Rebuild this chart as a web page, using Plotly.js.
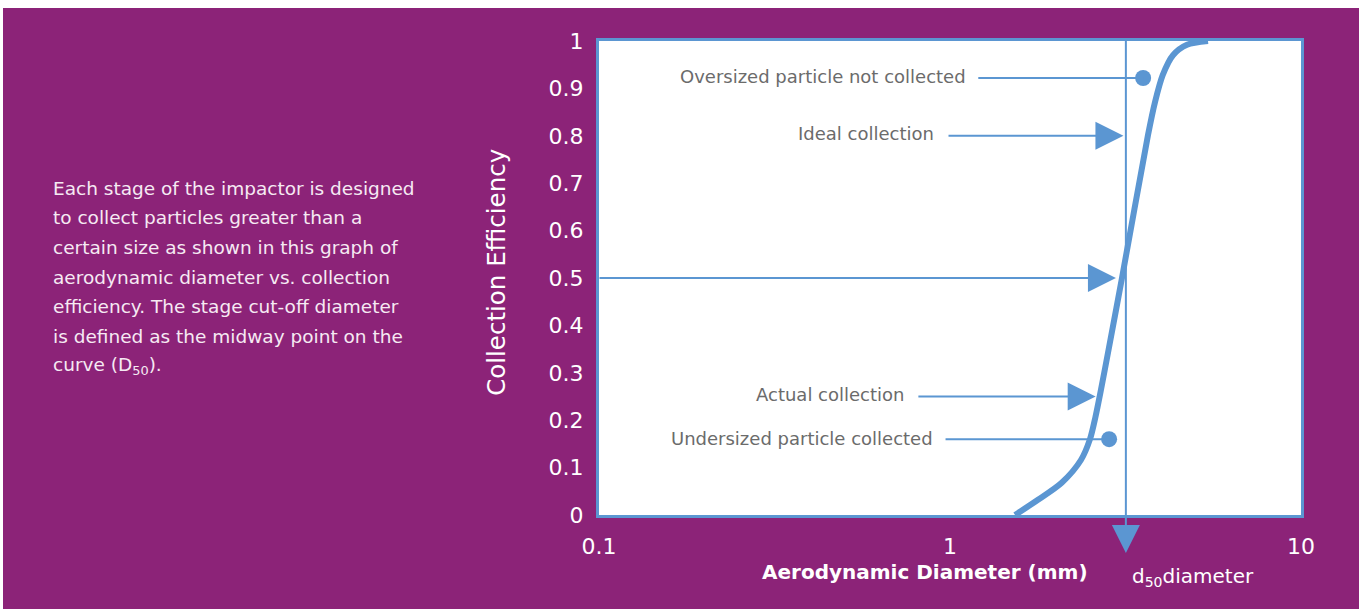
<!DOCTYPE html>
<html><head><meta charset="utf-8">
<script src="https://cdn.plot.ly/plotly-3.0.1.min.js"></script>
<style>
html,body{margin:0;padding:0;background:#fff;width:1359px;height:609px;overflow:hidden}
#chart{position:absolute;left:3px;top:8px;width:1356px;height:601px}
</style>
</head><body><div id="chart"></div>
<script>
// ---- data ----
const diameters  = [1.532, 1.781, 2.081, 2.361, 2.505, 2.597, 2.674, 2.829, 3.090, 3.666, 3.837, 4.036, 4.318, 4.734, 5.433];
const efficiency = [0.000, 0.032, 0.068, 0.116, 0.160, 0.207, 0.253, 0.348, 0.500, 0.802, 0.871, 0.928, 0.970, 0.992, 1.000];
const d50 = 3.17;
const particleLabels = ['Oversized particle not collected', 'Undersized particle collected'];
const particleDiameters = [3.55, 2.84];
const particleEfficiency = [0.922, 0.16];
const arrowLabels = ['Ideal collection', '', 'Actual collection'];
const arrowEfficiency = [0.8, 0.5, 0.25];
const arrowTipDiameters = [3.12, 2.97, 2.6];
const xTickVals = [0.1, 1, 10];
const xTickText = ['0.1', '1', '10'];
const yTickVals = [0, 0.1, 0.2, 0.3, 0.4, 0.5, 0.6, 0.7, 0.8, 0.9, 1];
const paragraphLines = [
  'Each stage of the impactor is designed',
  'to collect particles greater than a',
  'certain size as shown in this graph of',
  'aerodynamic diameter vs. collection',
  'efficiency. The stage cut-off diameter',
  'is defined as the midway point on the',
  'curve (D<sub>50</sub>).'
];

// ---- styling / layout ----
const BLUE = '#5b96d2';
const PURPLE = '#8c2378';
const GREY = '#6b6b6b';
const FONT = 'DejaVu Sans, Open Sans, sans-serif';
const particleLineStart = [1.20, 0.968];
const arrowLineStart = [0.987, 0.1, 0.81];
const L = Math.log10;
const TINY = {size: 1, color: 'rgba(0,0,0,0)'};

const traces = [
  {x: diameters, y: efficiency, type: 'scatter', mode: 'lines',
   line: {color: BLUE, width: 6, shape: 'spline', smoothing: 0.8}, hoverinfo: 'skip'},
  {x: particleDiameters, y: particleEfficiency, type: 'scatter', mode: 'markers',
   marker: {color: BLUE, size: 16}, hoverinfo: 'skip'}
];

const annotations = [];
particleLabels.forEach((t, i) => {
  annotations.push({xref: 'x', yref: 'y', x: L(particleDiameters[i]), y: particleEfficiency[i],
    axref: 'x', ayref: 'y', ax: L(particleLineStart[i]), ay: particleEfficiency[i],
    text: ' ', font: TINY, borderpad: 0, showarrow: true, arrowhead: 0, arrowwidth: 2, arrowcolor: BLUE, standoff: 0});
  annotations.push({xref: 'x', yref: 'y', x: L(particleLineStart[i]), y: particleEfficiency[i],
    xanchor: 'right', yanchor: 'middle', xshift: -10, yshift: 1, text: t, showarrow: false,
    font: {family: FONT, size: 18, color: GREY}});
});
arrowLabels.forEach((t, i) => {
  annotations.push({xref: 'x', yref: 'y', x: L(arrowTipDiameters[i]), y: arrowEfficiency[i],
    axref: 'x', ayref: 'y', ax: L(arrowLineStart[i]), ay: arrowEfficiency[i],
    text: ' ', font: TINY, borderpad: 0, showarrow: true, arrowhead: 2, arrowsize: 2.8, arrowwidth: 2,
    arrowcolor: BLUE, standoff: 0});
  if (t) annotations.push({xref: 'x', yref: 'y', x: L(arrowLineStart[i]), y: arrowEfficiency[i],
    xanchor: 'right', yanchor: 'middle', xshift: -12, yshift: 2, text: t, showarrow: false,
    font: {family: FONT, size: 18, color: GREY}});
});
// d50 vertical line with arrow below the axis
annotations.push({xref: 'x', yref: 'paper', x: L(d50), y: -0.08, axref: 'pixel', ayref: 'pixel',
  ax: 0, ay: -513, text: ' ', font: TINY, borderpad: 0, showarrow: true, arrowhead: 2, arrowsize: 2.8,
  arrowwidth: 2, arrowcolor: BLUE, standoff: 0});
annotations.push({xref: 'paper', yref: 'paper', x: 0.756, y: -0.131, xanchor: 'left', yanchor: 'middle',
  text: 'd<sub>50</sub>diameter', showarrow: false, font: {family: FONT, size: 20, color: '#ffffff'}});
// axis titles
annotations.push({xref: 'paper', yref: 'paper', x: 0.4644, y: -0.1203, xanchor: 'center', yanchor: 'middle',
  text: '<b>Aerodynamic Diameter (mm)</b>', showarrow: false, font: {family: FONT, size: 20, color: '#ffffff'}});
annotations.push({xref: 'paper', yref: 'paper', x: -0.1453, y: 0.513, xanchor: 'center', yanchor: 'middle',
  textangle: -90, text: 'Collection Efficiency', showarrow: false, font: {family: FONT, size: 24.5, color: '#ffffff'}});
// paragraph
paragraphLines.forEach((t, i) => {
  const py = 188 + 29.7 * i;
  annotations.push({xref: 'paper', yref: 'paper', x: (53 - 599) / 702, y: (515 - py) / 474,
    xanchor: 'left', yanchor: 'middle', xshift: -2, text: t, showarrow: false, align: 'left',
    font: {family: FONT, size: 18.5, color: '#f6eaf3'}});
});

const layout = {
  width: 1356, height: 601,
  margin: {l: 596, r: 58, t: 33, b: 94, pad: 0},
  paper_bgcolor: PURPLE, plot_bgcolor: '#ffffff',
  showlegend: false,
  xaxis: {type: 'log', range: [-1, 1], tickvals: xTickVals, ticktext: xTickText,
    showgrid: false, zeroline: false, showline: true, mirror: true, linecolor: BLUE, linewidth: 3,
    ticks: '', ticklabelstandoff: 10, tickfont: {family: FONT, size: 22, color: '#ffffff'}},
  yaxis: {range: [0, 1], tickvals: yTickVals, showgrid: false, zeroline: false,
    showline: true, mirror: true, linecolor: BLUE, linewidth: 3,
    ticks: '', ticklabelstandoff: 8, tickfont: {family: FONT, size: 22, color: '#ffffff'}},
  annotations: annotations
};
Plotly.newPlot('chart', traces, layout, {staticPlot: true, displayModeBar: false});
</script>
</body></html>
